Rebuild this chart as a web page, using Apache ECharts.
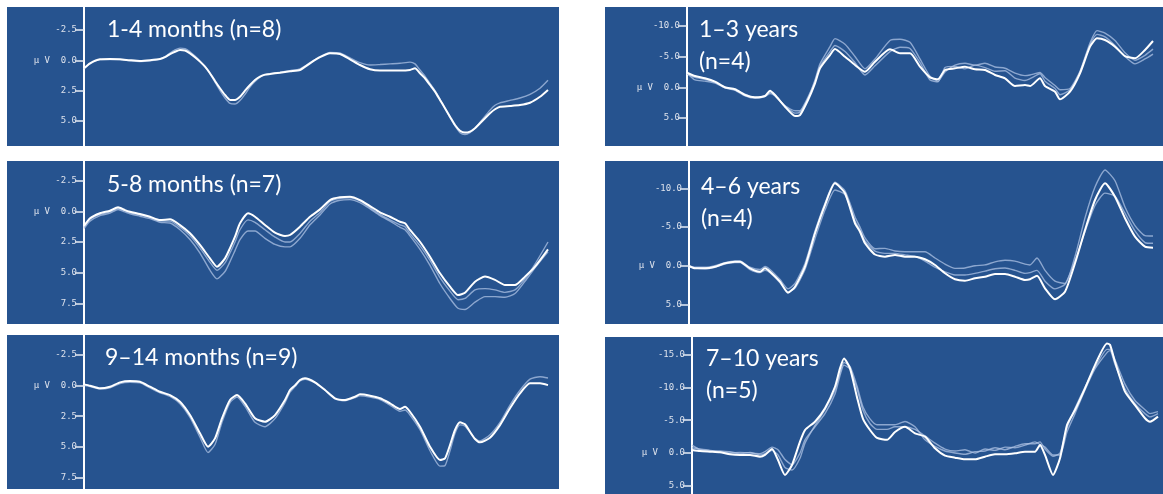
<!DOCTYPE html>
<html><head><meta charset="utf-8">
<script src="https://cdn.jsdelivr.net/npm/echarts@6/dist/echarts.min.js"></script>
<style>html,body{margin:0;padding:0;background:#fff}#c{width:1163px;height:494px}</style>
</head><body><div id="c"></div><script>
// ---------- DATA ----------
const titles = [
  ['1-4 months (n=8)'],
  ['5-8 months (n=7)'],
  ['9\u201314 months (n=9)'],
  ['1\u20133 years', '(n=4)'],
  ['4\u20136 years', '(n=4)'],
  ['7\u201310 years', '(n=5)']
];
const yTicks1 = [-2.5, 0, 2.5, 5];
const yTicks2 = [-2.5, 0, 2.5, 5, 7.5];
const yTicks3 = [-2.5, 0, 2.5, 5, 7.5];
const yTicks4 = [-10, -5, 0, 5];
const yTicks5 = [-10, -5, 0, 5];
const yTicks6 = [-15, -10, -5, 0, 5];
const unitLabel = '\u00b5 V';

// time (ms) of each sample and voltage (µV) per trace
const t1 = [0,12,32,52,72,92,112,132,152,162,172,182,192,202,212,222,232,242,252,262,272,282,292,302,312,322,332,342,352,362,372,392,412,432,452,472,492,512,532,552,572,592,612,632,652,662,672,682,692,702,712,722,732,742,752,762,772,782,792,802,812,822,832,852,872,892,912,928];
const main1 = [0.66,0.25,-0.08,-0.1,-0.08,0.0,0.06,0.0,-0.1,-0.25,-0.5,-0.7,-0.85,-0.8,-0.57,-0.25,0.11,0.53,1.07,1.7,2.3,2.85,3.26,3.26,3.0,2.5,2.03,1.62,1.35,1.18,1.13,1.02,0.9,0.8,0.25,-0.25,-0.57,-0.52,-0.08,0.39,0.74,0.85,0.85,0.85,0.8,0.66,1.07,1.48,2.03,2.58,3.26,3.95,4.64,5.32,5.79,5.95,5.87,5.59,5.18,4.77,4.36,4.03,3.82,3.76,3.68,3.49,3.0,2.44];
const faint1a = [0.7,0.3,-0.05,-0.05,-0.05,0.05,0.1,0.05,-0.1,-0.3,-0.6,-0.85,-1.0,-0.95,-0.7,-0.35,0.05,0.5,1.1,1.8,2.5,3.1,3.55,3.6,3.3,2.8,2.2,1.75,1.4,1.2,1.1,0.98,0.85,0.7,0.2,-0.3,-0.65,-0.6,-0.2,0.2,0.39,0.35,0.3,0.25,0.15,0.3,0.8,1.3,1.9,2.5,3.2,3.95,4.7,5.4,5.95,6.1,5.95,5.6,5.1,4.6,4.1,3.7,3.5,3.3,3.1,2.8,2.3,1.65];

const t2 = [0,12,32,52,68,82,92,112,132,152,172,192,212,232,252,266,282,292,302,312,328,342,362,382,402,412,432,452,472,492,512,532,552,572,592,612,632,642,652,672,692,712,732,748,762,782,802,822,842,862,882,902,928];
const main2 = [1.2,0.57,0.16,-0.05,-0.33,-0.1,0.03,0.22,0.44,0.71,0.65,1.12,1.79,2.74,3.83,4.51,3.83,3.0,2.07,0.98,0.16,0.44,1.12,1.74,2.01,1.93,1.25,0.44,-0.16,-0.92,-1.14,-1.19,-0.92,-0.43,0.08,0.44,0.85,0.98,1.52,2.48,3.7,5.05,6.14,6.82,6.63,5.73,5.32,5.59,6.0,6.0,5.32,4.51,3.1];
const faint2a = [1.3,0.65,0.25,0.05,-0.25,-0.05,0.1,0.3,0.5,0.8,0.8,1.3,2.0,3.0,4.15,4.8,4.2,3.4,2.5,1.5,0.7,0.9,1.5,2.1,2.5,2.5,1.8,0.8,0.1,-0.8,-1.05,-1.1,-0.85,-0.3,0.25,0.7,1.1,1.25,1.8,2.8,4.0,5.4,6.5,7.2,7.1,6.4,6.3,6.4,6.6,6.4,5.5,4.3,2.5];
const faint2b = [1.4,0.8,0.35,0.15,-0.15,0.05,0.2,0.4,0.6,0.9,0.95,1.5,2.3,3.4,4.8,5.5,4.9,4.1,3.2,2.3,1.6,1.6,2.2,2.7,2.9,2.9,2.2,1.1,0.3,-0.6,-0.9,-0.95,-0.7,-0.2,0.35,0.8,1.3,1.5,2.0,3.1,4.4,5.9,7.1,7.9,8.0,7.4,6.95,6.95,7.0,6.7,5.7,4.6,3.3];

const t3 = [0,12,32,52,72,92,112,132,152,172,192,212,232,248,262,276,292,306,322,342,362,382,402,412,422,432,442,462,482,502,522,542,552,572,592,612,632,642,652,672,692,712,722,732,742,752,762,772,782,792,812,832,852,872,892,912,928];
const main3 = [-0.08,0.03,0.24,0.11,-0.24,-0.35,-0.29,0.11,0.52,0.79,1.33,2.41,3.89,4.97,4.3,2.67,1.19,0.79,1.46,2.67,2.95,2.41,1.19,0.38,0.0,-0.43,-0.57,-0.24,0.38,1.05,1.19,0.92,0.73,0.84,1.05,1.46,1.92,1.73,2.14,3.35,4.97,6.05,5.92,4.84,3.62,3.0,3.16,3.76,4.35,4.62,4.24,3.22,1.86,0.65,-0.16,-0.16,-0.02];
const faint3a = [0.0,0.1,0.3,0.2,-0.15,-0.25,-0.2,0.2,0.6,0.9,1.5,2.6,4.2,5.45,4.8,3.0,1.4,0.95,1.7,3.0,3.35,2.7,1.4,0.55,0.1,-0.35,-0.5,-0.2,0.4,1.1,1.25,1.0,0.85,0.95,1.15,1.6,2.1,2.0,2.4,3.6,5.3,6.55,6.5,5.3,3.9,3.2,3.3,3.8,4.3,4.5,4.0,3.0,1.6,0.4,-0.5,-0.7,-0.6];

const t4 = [0,16,36,56,76,96,116,136,156,166,176,196,216,226,242,256,266,286,296,316,336,356,376,406,426,446,466,486,502,516,536,556,576,596,616,636,656,676,686,706,716,736,746,766,786,806,820,836,856,876,896,916,932];
const main4 = [-2.37,-1.83,-1.46,-0.91,0.0,0.32,1.25,1.62,1.41,0.55,1.25,3.15,4.66,4.5,2.06,-0.65,-3.08,-5.24,-6.2,-4.97,-3.62,-2.53,-4.16,-6.17,-5.52,-5.52,-3.35,-1.62,-1.3,-2.81,-3.08,-3.35,-2.92,-2.81,-2.0,-1.46,-0.21,-0.37,-0.21,-1.46,-0.21,0.71,1.95,0.71,-2.27,-6.6,-7.95,-7.68,-6.6,-5.08,-4.7,-6.06,-7.52];
const faint4a = [-2.3,-1.2,-1.0,-0.7,0.1,0.4,1.1,1.7,1.4,0.8,1.3,3.0,3.8,3.8,1.8,-1.2,-3.8,-6.6,-7.9,-7.0,-5.0,-3.0,-4.6,-7.6,-7.8,-7.3,-4.6,-1.8,-1.0,-2.5,-3.6,-3.9,-3.6,-3.9,-3.3,-3.1,-2.3,-1.9,-2.0,-2.4,-1.6,-0.3,0.4,0.2,-2.6,-7.2,-9.2,-8.8,-7.6,-5.6,-4.4,-5.2,-6.2];
const faint4b = [-2.2,-1.6,-1.3,-0.8,0.1,0.5,1.4,1.8,1.5,1.0,1.4,3.0,4.2,4.0,1.6,-1.0,-3.4,-5.8,-6.8,-5.8,-4.0,-2.0,-3.5,-5.8,-6.5,-6.3,-4.0,-1.2,-0.9,-3.2,-3.4,-3.0,-3.6,-3.2,-2.6,-2.7,-1.5,-1.1,-1.4,-2.2,-1.0,0.2,1.2,0.4,-2.5,-6.9,-8.6,-8.2,-6.8,-5.0,-3.8,-4.6,-5.4];

const t5 = [0,12,32,52,72,92,102,122,142,152,162,182,198,212,232,252,272,292,312,332,342,352,372,392,412,432,452,472,492,512,532,552,572,592,612,632,652,672,682,696,712,732,752,772,792,812,832,852,872,892,912,928];
const main5 = [0.04,0.34,0.34,0.13,-0.31,-0.52,-0.52,0.34,0.78,0.34,0.78,2.07,3.5,2.72,0.13,-4.2,-7.86,-10.67,-9.38,-5.49,-4.4,-2.9,-1.45,-1.17,-1.39,-1.17,-1.17,-0.83,-0.09,0.98,1.76,1.94,1.63,1.42,1.08,1.08,1.42,1.85,1.75,1.3,2.93,4.35,3.37,-0.31,-4.62,-8.51,-10.67,-8.94,-6.14,-3.76,-2.46,-2.33];
const faint5a = [0.0,0.2,0.2,0.0,-0.4,-0.6,-0.6,0.2,0.5,0.1,0.5,1.8,3.0,2.3,-0.3,-4.5,-8.1,-10.8,-9.7,-6.3,-5.0,-3.6,-2.2,-2.25,-1.9,-1.8,-1.8,-1.8,-1.0,-0.2,0.34,0.3,0.0,-0.1,-0.5,-0.7,-0.6,-0.2,-0.1,-1.0,0.6,2.0,2.3,-1.2,-6.2,-10.2,-12.4,-11.0,-7.6,-5.2,-3.9,-3.85];
const faint5b = [0.1,0.3,0.4,0.2,-0.2,-0.4,-0.4,0.5,0.9,0.6,0.9,2.2,3.4,2.9,0.5,-3.5,-7.2,-9.8,-9.2,-5.8,-4.6,-3.2,-1.9,-1.6,-1.6,-1.4,-1.2,-0.6,0.2,0.8,1.2,1.2,1.0,0.7,0.4,0.3,0.6,1.0,0.9,0.6,2.0,3.0,2.4,-0.6,-4.4,-7.8,-9.4,-9.0,-6.8,-4.5,-3.0,-2.9];

const t6 = [0,16,36,56,76,96,116,136,146,160,172,186,200,216,226,246,266,286,296,304,316,330,342,356,370,390,406,426,446,466,486,506,526,546,566,586,606,626,646,666,686,696,706,722,736,750,766,786,806,830,836,846,866,886,906,916,932];
const main6 = [-0.46,-0.3,-0.2,-0.1,0.2,0.3,0.3,0.56,0.3,-0.61,1.07,3.35,1.83,-1.73,-3.5,-4.77,-6.81,-10.1,-12.9,-14.4,-12.9,-8.5,-5.2,-3.5,-2.3,-2.0,-3.2,-4.0,-3.0,-2.49,-0.71,0.41,0.71,0.97,0.97,0.56,0.2,0.2,0.05,-0.2,-0.2,-1.22,0.3,3.35,0.81,-4.27,-6.55,-9.86,-13.4,-16.7,-16.5,-13.9,-9.35,-7.3,-5.29,-4.77,-5.54];
const faint6a = [-1.2,-0.5,-0.3,-0.2,0.0,-0.1,0.0,0.1,-0.2,-0.9,-0.5,1.0,1.8,0.0,-2.0,-4.0,-6.0,-9.0,-11.8,-13.4,-12.8,-9.8,-6.5,-4.5,-3.6,-3.6,-4.0,-4.0,-3.6,-2.6,-1.5,-0.6,-0.3,-0.5,0.0,-0.6,-0.4,-0.9,-0.8,-1.2,-1.7,-1.3,-0.9,0.3,0.3,-3.2,-6.0,-9.6,-12.8,-15.3,-15.6,-13.5,-9.8,-7.5,-6.0,-5.5,-6.0];
const faint6b = [-0.8,-0.6,-0.4,-0.3,-0.2,0.1,-0.1,0.3,0.1,-0.4,0.3,2.2,2.6,0.8,-1.5,-4.2,-6.6,-9.6,-12.2,-13.8,-13.2,-10.2,-7.0,-5.2,-4.3,-4.3,-4.3,-4.8,-4.0,-2.0,-1.0,-0.3,0.0,0.2,-0.2,-0.3,-0.8,-0.5,-1.0,-1.4,-1.4,-1.7,-0.6,0.5,0.0,-3.8,-6.8,-10.0,-13.0,-15.8,-15.8,-14.2,-10.5,-8.0,-6.6,-6.0,-6.3];

// ---------- LAYOUT / STYLE ----------
const BLUE = '#26538f';
const panels = [
  {box:[7,7,552,139],   axisX:84,  plotW:464, yMin:-4.38,  yMax:7.05, tEnd:928, ticks:yTicks1, t:t1, main:main1, faint:[faint1a], titleX:107, titleY:[30]},
  {box:[7,161,552,163], axisX:84,  plotW:464, yMin:-4.10,  yMax:9.18, tEnd:928, ticks:yTicks2, t:t2, main:main2, faint:[faint2a, faint2b], titleX:107, titleY:[185]},
  {box:[7,335,552,154], axisX:84,  plotW:464, yMin:-4.08,  yMax:8.40, tEnd:928, ticks:yTicks3, t:t3, main:main3, faint:[faint3a], titleX:105, titleY:[358]},
  {box:[605,7,558,139], axisX:687, plotW:466, yMin:-13.04, yMax:9.53, tEnd:932, ticks:yTicks4, t:t4, main:main4, faint:[faint4a, faint4b], titleX:699, titleY:[30,62]},
  {box:[605,161,558,163], axisX:689, plotW:464, yMin:-13.56, yMax:7.55, tEnd:928, ticks:yTicks5, t:t5, main:main5, faint:[faint5a, faint5b], titleX:701, titleY:[187,219]},
  {box:[605,337,558,157], axisX:692, plotW:466, yMin:-17.68, yMax:6.25, tEnd:932, ticks:yTicks6, t:t6, main:main6, faint:[faint6a, faint6b], titleX:706, titleY:[359,391]}
];

const grids = [], xAxes = [], yAxes = [], series = [], graphics = [];
panels.forEach((p, i) => {
  graphics.push({type:'rect', z:-10, shape:{x:p.box[0], y:p.box[1], width:p.box[2], height:p.box[3]},
    style:{fill:BLUE}, silent:true});
  titles[i].forEach((line, k) => {
    graphics.push({type:'text', z:100, x:p.titleX, y:p.titleY[k],
      style:{text:line, fill:'#ffffff', font:'23px Lato', verticalAlign:'middle', align:'left'}});
  });
  grids.push({left:p.axisX, top:p.box[1], width:p.plotW, height:p.box[3], containLabel:false});
  xAxes.push({type:'value', gridIndex:i, min:0, max:p.tEnd, show:false});
  yAxes.push({type:'value', gridIndex:i, inverse:true, min:p.yMin, max:p.yMax,
    axisLine:{show:true, onZero:false, lineStyle:{color:'#ffffff', width:2}},
    axisTick:{show:true, customValues:p.ticks, length:9, lineStyle:{color:'#e8edf5', width:1.5}},
    axisLabel:{show:true, customValues:p.ticks, margin:7, color:'#dde2ec',
      fontFamily:'DejaVu Sans Mono', fontSize:9,
      formatter: v => (Math.abs(v) < 1e-9 ? unitLabel + '  ' : '') + Number(v).toFixed(1)},
    splitLine:{show:false}});
  const mk = arr => p.t.map((tt, j) => [tt, arr[j]]);
  p.faint.forEach(f => series.push({type:'line', xAxisIndex:i, yAxisIndex:i, data:mk(f), showSymbol:false,
    smooth:0.2, lineStyle:{color:'rgba(175,195,228,0.75)', width:1.4}, z:2, silent:true}));
  series.push({type:'line', xAxisIndex:i, yAxisIndex:i, data:mk(p.main), showSymbol:false,
    smooth:0.2, lineStyle:{color:'#ffffff', width:2}, z:3, silent:true});
});

const chart = echarts.init(document.getElementById('c'), null, {renderer:'canvas'});
chart.setOption({
  animation:false,
  backgroundColor:'#ffffff',
  grid:grids, xAxis:xAxes, yAxis:yAxes, series:series, graphic:graphics
});
</script></body></html>
